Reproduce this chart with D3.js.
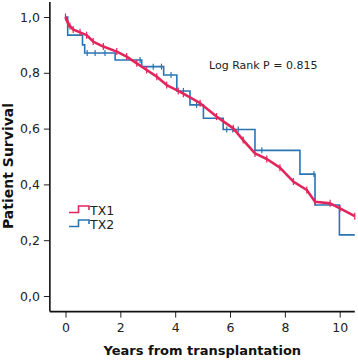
<!DOCTYPE html>
<html>
<head>
<meta charset="utf-8">
<script src="https://cdn.jsdelivr.net/npm/d3@7"></script>
<style>
  body { margin: 0; background: #fff; }
  svg { display: block; }
</style>
</head>
<body>
<svg id="chart" width="358" height="360"></svg>
<script>
// survival ticks
var yTicks = [0, 0.2, 0.4, 0.6, 0.8, 1.0];
var xTicks = [0, 2, 4, 6, 8, 10];

// TX1 (red)
var tx1Time = [0, 0.10, 0.16, 0.28, 0.53, 0.77, 1.01, 1.38, 1.87, 2.23, 2.60, 2.96, 3.33, 3.69, 4.11, 4.30, 4.91, 5.51, 6.12, 6.48, 6.91, 7.34, 7.82, 8.31, 8.80, 9.10, 9.65, 10.01, 10.55];
var tx1Surv = [1.0, 0.975, 0.968, 0.955, 0.945, 0.935, 0.912, 0.894, 0.876, 0.858, 0.834, 0.81, 0.786, 0.756, 0.735, 0.725, 0.691, 0.643, 0.601, 0.559, 0.511, 0.491, 0.460, 0.410, 0.380, 0.338, 0.332, 0.314, 0.286];

// TX2 (blue) steps
var tx2Time = [0, 0.08, 0.62, 0.70, 1.81, 2.78, 3.58, 4.06, 4.54, 5.03, 5.75, 6.91, 8.55, 9.10, 9.99, 10.55];
var tx2Surv = [1.0, 0.935, 0.90, 0.871, 0.846, 0.822, 0.792, 0.735, 0.685, 0.637, 0.597, 0.522, 0.437, 0.326, 0.219, 0.219];
var tx2CensorTime = [0.79, 1.08, 1.44, 2.72, 3.2, 3.5, 3.85, 4.3, 4.78, 5.88, 6.1, 6.3, 7.16, 9.06];

var redColor = '#e2265d';
var blueColor = '#2a74b4';
var font = 'DejaVu Sans';

var svg = d3.select('#chart');

var xScale = d3.scaleLinear().domain([0, 10]).range([65.5, 339.7]);
var yScale = d3.scaleLinear().domain([0, 1]).range([296, 17]);

var xMin = -0.57, xMax = 10.55;
var yMin = -0.056, yMax = 1.054;

// survival at time t for the blue step curve
function tx2At(t) {
  var s = tx2Surv[0];
  for (var i = 0; i < tx2Time.length; i++) {
    if (tx2Time[i] <= t) s = tx2Surv[i];
  }
  return s;
}

var tx1 = tx1Time.map(function(t, i) { return [t, tx1Surv[i]]; });
var tx2 = tx2Time.map(function(t, i) { return [t, tx2Surv[i]]; });

var lineLinear = d3.line()
  .x(function(d) { return xScale(d[0]); })
  .y(function(d) { return yScale(d[1]); });
var lineStep = d3.line()
  .curve(d3.curveStepAfter)
  .x(function(d) { return xScale(d[0]); })
  .y(function(d) { return yScale(d[1]); });

//Blue curve
svg.append('path')
  .attr('d', lineStep(tx2))
  .style('fill', 'none')
  .style('stroke', blueColor)
  .style('stroke-width', 1.6);

svg.selectAll('.c2')
  .data(tx2CensorTime)
  .enter()
  .append('line')
  .attr('class', 'c2')
  .attr('x1', function(d) { return xScale(d); })
  .attr('x2', function(d) { return xScale(d); })
  .attr('y1', function(d) { return yScale(tx2At(d)) - 3; })
  .attr('y2', function(d) { return yScale(tx2At(d)) + 3; })
  .style('stroke', blueColor)
  .style('stroke-width', 1.2);

//Red curve
svg.append('path')
  .attr('d', lineLinear(tx1))
  .style('fill', 'none')
  .style('stroke', redColor)
  .style('stroke-width', 2.6)
  .style('stroke-linejoin', 'round');

svg.selectAll('.c1')
  .data(tx1)
  .enter()
  .append('line')
  .attr('class', 'c1')
  .attr('x1', function(d) { return xScale(d[0]); })
  .attr('x2', function(d) { return xScale(d[0]); })
  .attr('y1', function(d) { return yScale(d[1]) - 3.5; })
  .attr('y2', function(d) { return yScale(d[1]) + 3.5; })
  .style('stroke', redColor)
  .style('stroke-width', 1.2);

//Axes
var yAxis = d3.axisLeft(yScale)
  .tickValues(yTicks)
  .tickSize(6)
  .tickFormat(function(d) { return d3.format('.1f')(d).replace('.', ','); });
var gy = svg.append('g')
  .attr('transform', 'translate(' + xScale(xMin) + ',0)')
  .call(yAxis);
gy.select('.domain').remove();
gy.selectAll('text').attr('font-family', font).attr('font-size', 12.5).attr('fill', '#222').attr('dx', -1);
gy.selectAll('line').attr('stroke', '#222');

var xAxis = d3.axisBottom(xScale)
  .tickValues(xTicks)
  .tickSize(6);
var gx = svg.append('g')
  .attr('transform', 'translate(0,' + yScale(yMin) + ')')
  .call(xAxis);
gx.select('.domain').remove();
gx.selectAll('text').attr('font-family', font).attr('font-size', 12.5).attr('fill', '#222').attr('dy', '0.95em');
gx.selectAll('line').attr('stroke', '#222');

svg.append('line')
  .attr('x1', xScale(xMin)).attr('x2', xScale(xMin))
  .attr('y1', yScale(yMax)).attr('y2', yScale(yMin))
  .style('stroke', '#111').style('stroke-width', 1.6);
svg.append('line')
  .attr('x1', xScale(xMin)).attr('x2', xScale(xMax))
  .attr('y1', yScale(yMin)).attr('y2', yScale(yMin))
  .style('stroke', '#111').style('stroke-width', 1.6);

//Axis titles
svg.append('text')
  .attr('x', (xScale(xMin) + xScale(xMax)) / 2)
  .attr('y', 355)
  .attr('text-anchor', 'middle')
  .attr('font-family', font)
  .attr('font-size', 13)
  .attr('font-weight', 'bold')
  .attr('fill', '#111')
  .text('Years from transplantation');

svg.append('text')
  .attr('transform', 'translate(13,166) rotate(-90)')
  .attr('text-anchor', 'middle')
  .attr('font-family', font)
  .attr('font-size', 14)
  .attr('font-weight', 'bold')
  .attr('fill', '#111')
  .text('Patient Survival');

//Log rank
svg.append('text')
  .attr('x', 209)
  .attr('y', 69)
  .attr('font-family', font)
  .attr('font-size', 11)
  .attr('fill', '#222')
  .text('Log Rank P = 0.815');

//Legend
var legend = [{ name: 'TX1', color: redColor }, { name: 'TX2', color: blueColor }];
var lg = svg.selectAll('.lg')
  .data(legend)
  .enter()
  .append('g')
  .attr('class', 'lg')
  .attr('transform', function(d, i) { return 'translate(69,' + (206 + i * 14) + ')'; });
lg.append('path')
  .attr('d', 'M0,6.5 H9.5 V0 H20 V4')
  .style('fill', 'none')
  .style('stroke', function(d) { return d.color; })
  .style('stroke-width', 1.6);
lg.append('text')
  .attr('x', 21)
  .attr('y', 8.5)
  .attr('font-family', font)
  .attr('font-size', 12.5)
  .attr('fill', '#222')
  .text(function(d) { return d.name; });
</script>
</body>
</html>
